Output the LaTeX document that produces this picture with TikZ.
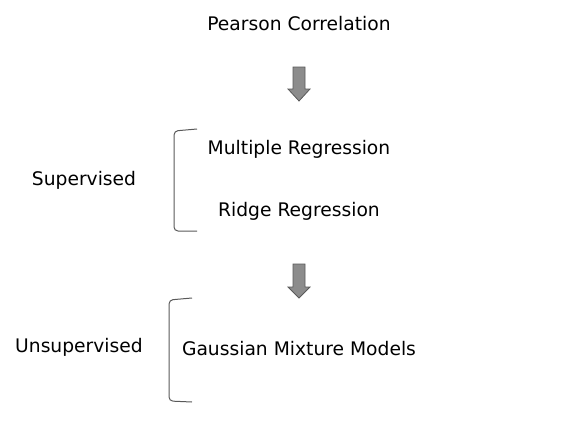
\documentclass[tikz,border=0pt]{standalone}
\usepackage{fontspec}
\setmainfont{DejaVu Sans}
\usepackage{tikz}

\begin{document}
\begin{tikzpicture}[
  label/.style={inner sep=0pt,text=black,font=\fontsize{18.7bp}{22bp}\selectfont},
  blockarrow/.style={draw=black!65,fill=black!45,line width=0.8pt,line join=miter},
  bracket/.style={draw=black!65,line width=1pt,rounded corners=4bp}]
\useasboundingbox (0bp,0bp) rectangle (588bp,-432bp);

\node (PC) at (299bp,-24bp)[label] {Pearson Correlation};
\node (MR) at (299bp,-149bp)[label] {Multiple Regression};
\node (RR) at (299bp,-211bp)[label] {Ridge Regression};
\node (SV) at (84bp,-180bp)[label] {Supervised};
\node (GM) at (299bp,-349bp)[label] {Gaussian Mixture Models};
\node (US) at (79bp,-347bp)[label] {Unsupervised};

% block arrows
\draw [blockarrow] (293bp,-67bp) -- (305bp,-67bp) -- (305bp,-89bp) -- (310bp,-89bp)
  -- (299bp,-101bp) -- (288bp,-89bp) -- (293bp,-89bp) -- cycle;
\draw [blockarrow] (293bp,-264bp) -- (305bp,-264bp) -- (305bp,-287bp) -- (310bp,-287bp)
  -- (299bp,-298bp) -- (288bp,-287bp) -- (293bp,-287bp) -- cycle;

% brackets
\draw [bracket] (197bp,-129bp) -- (174bp,-131bp) -- (174bp,-231bp) -- (197bp,-231bp);
\draw [bracket] (192bp,-298bp) -- (169bp,-300bp) -- (169bp,-401bp) -- (192bp,-402bp);
\end{tikzpicture}
\end{document}
